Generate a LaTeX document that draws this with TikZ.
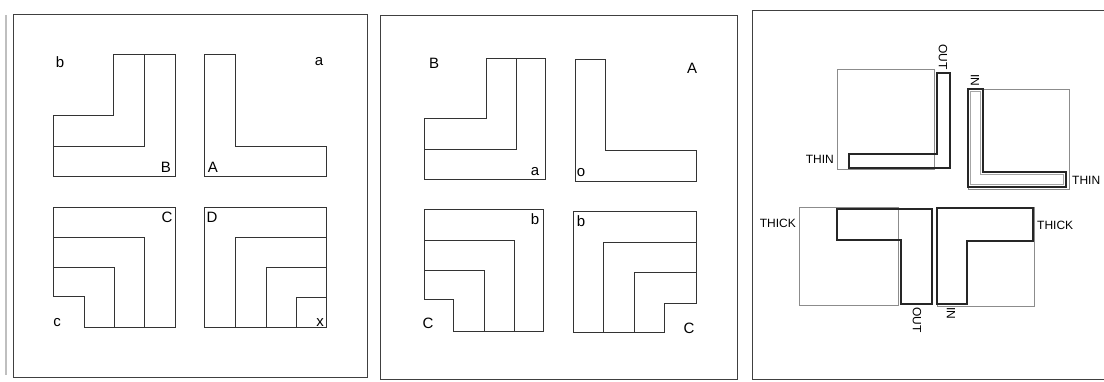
\documentclass[tikz,border=0pt]{standalone}
\usepackage{fontspec}
\setmainfont{Liberation Sans}
\begin{document}
\begin{tikzpicture}[x=1pt,y=-1pt,
  frame/.style={draw=black!75,line width=0.9pt},
  fig/.style={draw=black!80,line width=0.9pt},
  pale/.style={draw=black!45,line width=0.8pt},
  dark/.style={draw=black!85,line width=1.3pt},
  lbl/.style={font=\fontsize{15}{17}\selectfont,inner sep=0pt},
  sml/.style={font=\fontsize{12}{14}\selectfont,inner sep=0pt}]
\useasboundingbox (0,0) rectangle (1104,381);
\fill[white] (0,0) rectangle (1104,381);
% scan artefact
\draw[black!25,line width=1.2pt] (6,15) -- (6,375);
% frames
\draw[frame] (13,14) rectangle (367,377);
\draw[frame] (380,15) rectangle (737,379);
\draw[frame] (752,10) -- (1106,10);
\draw[frame] (752,10) -- (752,379) -- (1106,379);
% ---------- panel 1 ----------
\draw[fig] (113,54) -- (175,54) -- (175,176) -- (53,176) -- (53,115) -- (113,115) -- cycle;
\draw[fig] (144,54) -- (144,146) -- (53,146);
\draw[fig] (204,54) -- (235,54) -- (235,146) -- (326,146) -- (326,176) -- (204,176) -- cycle;
\draw[fig] (53,207) -- (175,207) -- (175,327) -- (84,327) -- (84,296) -- (53,296) -- cycle;
\draw[fig] (53,237) -- (144,237) -- (144,327);
\draw[fig] (53,267) -- (114,267) -- (114,327);
\draw[fig] (204,207) rectangle (326,327);
\draw[fig] (326,237) -- (235,237) -- (235,327);
\draw[fig] (326,267) -- (266,267) -- (266,327);
\draw[fig] (326,297) -- (296,297) -- (296,327);
\node[lbl] (p1b) at (60,62) {b};
\node[lbl] (p1B) at (166,167) {B};
\node[lbl] (p1a) at (319,62) {a};
\node[lbl] (p1A) at (213,167) {A};
\node[lbl] (p1C) at (167,217) {C};
\node[lbl] (p1c) at (57,323) {c};
\node[lbl] (p1D) at (212,217) {D};
\node[lbl] (p1x) at (320,323) {x};
% ---------- panel 2 ----------
\draw[fig] (486,58) -- (545,58) -- (545,179) -- (424,179) -- (424,118) -- (486,118) -- cycle;
\draw[fig] (516,58) -- (516,149) -- (424,149);
\draw[fig] (575,59) -- (605,59) -- (605,150) -- (696,150) -- (696,181) -- (575,181) -- cycle;
\draw[fig] (424,209) -- (543,209) -- (543,331) -- (453,331) -- (453,299) -- (424,299) -- cycle;
\draw[fig] (424,240) -- (514,240) -- (514,331);
\draw[fig] (424,270) -- (484,270) -- (484,331);
\draw[fig] (573,211) -- (696,211) -- (696,303) -- (664,303) -- (664,332) -- (573,332) -- cycle;
\draw[fig] (696,242) -- (603,242) -- (603,332);
\draw[fig] (696,272) -- (634,272) -- (634,332);
\node[lbl] (p2B) at (434,63) {B};
\node[lbl] (p2a) at (535,172) {a};
\node[lbl] (p2A) at (692,68) {A};
\node[lbl] (p2o) at (581,173) {o};
\node[lbl] (p2b1) at (535,219) {b};
\node[lbl] (p2C1) at (428,323) {C};
\node[lbl] (p2b2) at (581,221) {b};
\node[lbl] (p2C2) at (689,328) {C};
% ---------- panel 3 ----------
% top-left
\draw[pale] (837,69) rectangle (934,169);
\draw[dark] (937,73) -- (950,73) -- (950,168) -- (849,168) -- (849,154) -- (937,154) -- cycle;
\node[sml,anchor=east] (t1) at (834,159) {THIN};
\node[sml,rotate=-90,anchor=west] (o1) at (943,44) {OUT};
% top-right
\draw[pale] (968,89) rectangle (1069,189);
\draw[dark] (968,89) -- (983,89) -- (983,172) -- (1066,172) -- (1066,187) -- (968,187) -- cycle;
\draw[black!35,line width=0.5pt] (970.5,91.5) -- (980.5,91.5) -- (980.5,174.5) -- (1063.5,174.5) -- (1063.5,184.5) -- (970.5,184.5) -- cycle;
\node[sml,anchor=west] (t2) at (1072,180) {THIN};
\node[sml,rotate=-90,anchor=west] (i1) at (975,74) {IN};
% bottom-left
\draw[pale] (799,207) rectangle (898,305);
\draw[dark] (837,209) -- (932,209) -- (932,304) -- (901,304) -- (901,240) -- (837,240) -- cycle;
\node[sml,anchor=east] (k1) at (796,223) {THICK};
\node[sml,rotate=-90,anchor=west] (o2) at (917,307) {OUT};
% bottom-right
\draw[pale] (937,207) rectangle (1034,306);
\draw[dark] (937,208) -- (1033,208) -- (1033,241) -- (967,241) -- (967,304) -- (937,304) -- cycle;
\node[sml,anchor=west] (k2) at (1037,225) {THICK};
\node[sml,rotate=-90,anchor=west] (i2) at (951,307) {IN};
\end{tikzpicture}
\end{document}
